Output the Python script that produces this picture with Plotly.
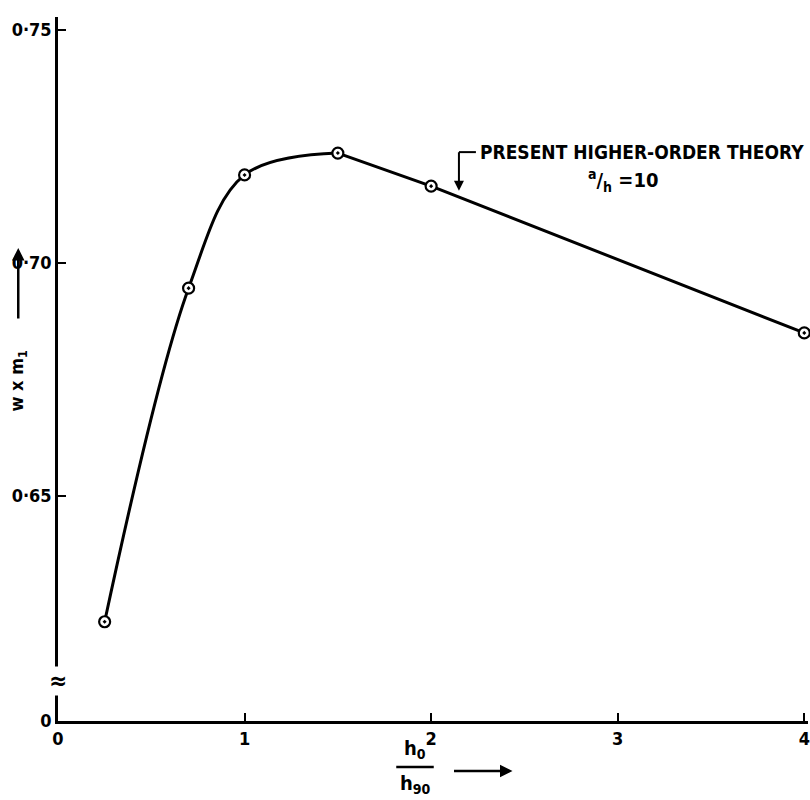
import plotly.graph_objects as go

# Data
ratio_h0_h90 = [0.25, 0.7, 1.0, 1.5, 2.0, 4.0]
w_x_m1 = [0.623, 0.6946, 0.7189, 0.7236, 0.7165, 0.685]

x_tick_vals = [0, 1, 2, 3, 4]
x_tick_text = ["0", "1", "2", "3", "4"]
y_tick_vals = [0.6017, 0.65, 0.70, 0.75]
y_tick_text = ["0", "0·65", "0·70", "0·75"]

FONT = "DejaVu Sans Condensed, DejaVu Sans"

fig = go.Figure()
# smooth rising part up to the maximum region
fig.add_trace(go.Scatter(
    x=ratio_h0_h90[:4], y=w_x_m1[:4], mode="lines",
    line=dict(color="black", width=3, shape="spline", smoothing=1.0),
    showlegend=False, hoverinfo="skip",
))
# nearly straight falling part
fig.add_trace(go.Scatter(
    x=ratio_h0_h90[3:], y=w_x_m1[3:], mode="lines",
    line=dict(color="black", width=3),
    showlegend=False, hoverinfo="skip",
))
fig.add_trace(go.Scatter(
    x=ratio_h0_h90, y=w_x_m1, mode="markers",
    marker=dict(symbol="circle-dot", size=11, color="white",
                line=dict(color="black", width=2.2)),
    cliponaxis=False, showlegend=False,
))

tick_font = dict(family=FONT, size=18, color="black", weight="bold")

fig.update_layout(
    width=810, height=800,
    margin=dict(l=58, r=2, t=17, b=79),
    plot_bgcolor="white", paper_bgcolor="white",
    font=dict(family=FONT, color="black", size=16),
    xaxis=dict(range=[0, 4.02], showgrid=False, zeroline=False, automargin=False,
               showline=True, linecolor="black", linewidth=2.5,
               tickvals=x_tick_vals, ticktext=x_tick_text,
               ticks="inside", ticklen=8, tickwidth=2, tickcolor="black",
               tickfont=tick_font),
    yaxis=dict(range=[0.6017, 0.7528], showgrid=False, zeroline=False, automargin=False,
               showline=True, linecolor="black", linewidth=2.5,
               tickvals=y_tick_vals, ticktext=y_tick_text,
               ticks="inside", ticklen=8, tickwidth=2, tickcolor="black",
               tickfont=tick_font),
)

annotations = [
    # curve label
    dict(x=2.25, y=0.7238, xref="x", yref="y", text="<b>PRESENT HIGHER-ORDER THEORY</b>",
         showarrow=False, xanchor="left", yanchor="middle",
         font=dict(family=FONT, size=19)),
    dict(x=3.03, y=0.7178, xref="x", yref="y",
         text="<b><sup>a</sup>/<sub>h</sub> =10</b>",
         showarrow=False, xanchor="center", yanchor="middle",
         font=dict(family=FONT, size=20)),
    # leader arrow
    dict(x=2.149, y=0.7155, xref="x", yref="y", ax=0, ay=-40,
         text="", showarrow=True, arrowhead=2, arrowsize=1, arrowwidth=2,
         arrowcolor="black", standoff=0),
    # y title
    dict(x=-0.053, y=0.484, xref="paper", yref="paper",
         xanchor="center", yanchor="middle",
         text="<b>w x m<sub>1</sub></b>", textangle=-90,
         showarrow=False, font=dict(family=FONT, size=18)),
    dict(x=-0.053, y=0.672, xref="paper", yref="paper", ax=0, ay=72,
         text="", showarrow=True, arrowhead=2, arrowsize=1, arrowwidth=2.5,
         arrowcolor="black", standoff=0),
    # x title fraction
    dict(x=0.476, y=-0.040, xref="paper", yref="paper",
         xanchor="center", yanchor="middle",
         text="<b>h<sub>0</sub></b>", showarrow=False,
         font=dict(family=FONT, size=20)),
    dict(x=0.476, y=-0.090, xref="paper", yref="paper",
         xanchor="center", yanchor="middle",
         text="<b>h<sub>90</sub></b>", showarrow=False,
         font=dict(family=FONT, size=20)),
    dict(x=0.606, y=-0.071, xref="paper", yref="paper", ax=-60, ay=0,
         text="", showarrow=True, arrowhead=2, arrowsize=1, arrowwidth=2.5,
         arrowcolor="black", standoff=0),
    # axis break
    dict(x=0, y=0.057, xref="paper", yref="paper", text="<b>≈</b>",
         xanchor="center", yanchor="middle",
         showarrow=False, bgcolor="white",
         font=dict(family=FONT, size=24), borderpad=0),
]
fig.update_layout(annotations=annotations)

fig.add_shape(type="line", xref="x", yref="y", x0=2.149, x1=2.24, y0=0.7238, y1=0.7238,
              line=dict(color="black", width=2))
fig.add_shape(type="line", xref="paper", yref="paper", x0=0.451, x1=0.501,
              y0=-0.0653, y1=-0.0653, line=dict(color="black", width=2.5))

fig.write_html("out.html", config={"displayModeBar": False},
               post_script="document.body.style.margin='0';document.body.style.overflow='hidden';")
